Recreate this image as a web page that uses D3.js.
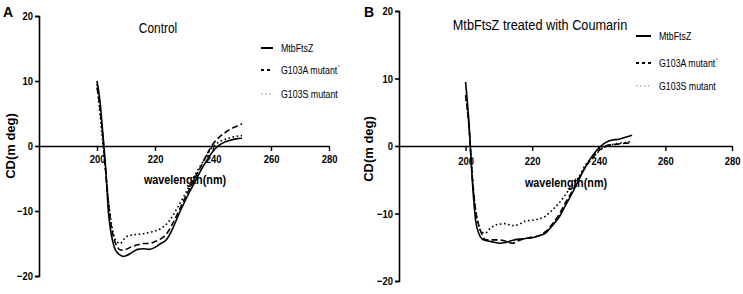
<!DOCTYPE html>
<html>
<head>
<meta charset="utf-8">
<script src="https://cdn.jsdelivr.net/npm/d3@7"></script>
<style>
  body { margin: 0; background: #fff; }
  svg { display: block; }
  text { font-family: "Liberation Sans", Arial, sans-serif; }
</style>
</head>
<body>
<script>
// wavelengths (nm) shared by every series
const wavelengths = [200, 201, 202, 203, 204, 205, 206, 207, 208, 209, 210, 212, 214, 216, 218, 220,
  222, 224, 226, 228, 230, 232, 234, 236, 238, 240, 242, 244, 246, 248, 250];

// panel A - control
const controlWild = [10, 7, 2, -3.5, -10.5, -13.8, -15.6, -16.4, -16.8, -17, -16.9, -16.4, -15.9, -15.8, -15.9, -15.6,
  -15, -14.4, -12.8, -10.7, -8.8, -7, -5.3, -3.6, -2.1, -0.8, 0.1, 0.6, 0.9, 1.1, 1.2];
const controlG103A = [9, 6, 1.5, -4, -9, -12.5, -14.5, -15.5, -16, -16, -15.9, -15.5, -15.2, -15, -15, -14.7,
  -14.3, -13.5, -12, -10.2, -8.3, -6.5, -4.7, -3, -1.2, 0.3, 1.3, 2, 2.6, 3, 3.4];
const controlG103S = [9.5, 5, 0.5, -4, -8.5, -12, -14, -14.8, -15, -14.5, -14, -13.7, -13.6, -13.5, -13.3, -13.1,
  -12.7, -12, -10.8, -9.3, -7.7, -6, -4.3, -2.8, -1.3, -0.1, 0.6, 1, 1.3, 1.5, 1.6];

// panel B - treated with coumarin
const coumarinWild = [9.5, 3.5, -5, -11, -13, -13.8, -14, -14.1, -14.2, -14.3, -14.4, -14.3, -14, -13.8, -13.7, -13.6,
  -13.3, -12.9, -11.8, -10.6, -8.8, -7, -5, -3.1, -1.5, -0.3, 0.5, 0.9, 1, 1.3, 1.6];
const coumarinG103A = [7.5, 3, -4.5, -9.5, -11.8, -13.2, -13.9, -13.9, -13.9, -13.9, -13.9, -14.1, -14.4, -14, -13.7, -13.5,
  -13.3, -12.7, -11.6, -10.2, -8.4, -6.7, -4.8, -3.1, -1.8, -0.7, 0, 0.2, 0.3, 0.4, 0.5];
const coumarinG103S = [7.5, 3, -4.5, -9.5, -12, -12.8, -12.9, -12.4, -12, -11.7, -11.6, -11.5, -11.8, -11.6, -11.1, -11,
  -10.8, -10.4, -9.5, -8.5, -7.2, -5.8, -4.6, -2.8, -1.7, -0.8, -0.1, 0.2, 0.4, 0.5, 0.7];

const seriesNames = ["MtbFtsZ", "G103A mutant`", "G103S mutant"];
const xTicks = [200, 220, 240, 260, 280];
const yTicks = [20, 10, 0, -10, -20];

// line styles for each series: solid, dashed, dotted
const styles = [
  { dash: null, width: 1.6, color: "#000" },
  { dash: "6,3", width: 1.6, color: "#000" },
  { dash: "1.6,2.6", width: 1.6, color: "#000" }
];
const legendStyles = [
  { dash: null, width: 2, color: "#000" },
  { dash: "3,3", width: 2, color: "#000" },
  { dash: "1.5,2.5", width: 1, color: "#888" }
];

const svg = d3.select("body").append("svg")
  .attr("width", 743)
  .attr("height", 294);

// the original uses a condensed face; squeeze the installed one horizontally
function squeeze(sel, factor) {
  sel.each(function() {
    const len = this.getComputedTextLength();
    d3.select(this)
      .attr("textLength", len * factor)
      .attr("lengthAdjust", "spacingAndGlyphs");
  });
}

function drawPanel(p) {
  const x = d3.scaleLinear().domain([180, 280]).range([p.x0, p.x1]);
  const y = d3.scaleLinear().domain([-20, 20]).range([p.yBottom, p.yTop]);
  const g = svg.append("g");

  // curves
  const line = d3.line()
    .x((d, i) => x(wavelengths[i]))
    .y(d => y(d))
    .curve(d3.curveMonotoneX);

  p.series.forEach((vals, i) => {
    g.append("path")
      .attr("d", line(vals))
      .attr("fill", "none")
      .attr("stroke", styles[i].color)
      .attr("stroke-width", styles[i].width)
      .attr("stroke-dasharray", styles[i].dash)
      .attr("stroke-linejoin", "round");
  });

  // y axis
  const yAxis = g.append("g")
    .attr("transform", `translate(${p.x0},0)`)
    .call(d3.axisLeft(y).tickValues(yTicks).tickSize(4).tickPadding(2));
  yAxis.select(".domain").attr("stroke-width", 1.6);
  yAxis.selectAll(".tick line").attr("stroke-width", 1.6);
  yAxis.selectAll("text")
    .attr("font-family", null)
    .attr("font-size", 11.5)
    .attr("font-weight", "bold")
    .attr("fill", "#000")
    .call(squeeze, 0.82);

  // x axis at y = 0
  const xAxis = g.append("g")
    .attr("transform", `translate(0,${y(0)})`)
    .call(d3.axisBottom(x).tickValues(xTicks).tickSize(5).tickSizeOuter(0).tickPadding(p.xPad));
  xAxis.select(".domain").attr("stroke-width", 1.6);
  xAxis.selectAll(".tick line").attr("stroke-width", 1.4);
  xAxis.selectAll("text")
    .attr("font-family", null)
    .attr("font-size", 11.5)
    .attr("font-weight", "bold")
    .attr("fill", "#000")
    .call(squeeze, 0.82);
  svg.selectAll(".tick text, .domain").attr("font-family", null);
  xAxis.attr("font-family", null);
  yAxis.attr("font-family", null);

  // axis titles
  g.append("text")
    .attr("x", p.xLabelX).attr("y", p.xLabelY)
    .attr("text-anchor", "middle")
    .attr("font-size", 13.5)
    .attr("font-weight", "bold")
    .text("wavelength(nm)")
    .call(squeeze, 0.8);

  g.append("text")
    .attr("transform", `translate(${p.yLabelX},${p.yLabelY}) rotate(-90)`)
    .attr("text-anchor", "middle")
    .attr("font-size", 13)
    .attr("font-weight", "bold")
    .text("CD(m deg)");

  // panel title and letter
  g.append("text")
    .attr("x", p.titleX).attr("y", p.titleY)
    .attr("text-anchor", "middle")
    .attr("font-size", p.titleSize)
    .text(p.title)
    .call(squeeze, 0.82);

  g.append("text")
    .attr("x", p.letterX).attr("y", 17)
    .attr("font-size", 14)
    .attr("font-weight", "bold")
    .text(p.letter);

  // legend
  seriesNames.forEach((name, i) => {
    const ly = p.legendY[i];
    g.append("line")
      .attr("x1", p.legendX).attr("x2", p.legendX + p.legendLen)
      .attr("y1", ly).attr("y2", ly)
      .attr("stroke", legendStyles[i].color)
      .attr("stroke-width", legendStyles[i].width)
      .attr("stroke-dasharray", legendStyles[i].dash);
    g.append("text")
      .attr("x", p.legendX + p.legendLen + 8)
      .attr("y", ly)
      .attr("dy", "0.35em")
      .attr("font-size", 11)
      .text(name)
      .call(squeeze, 0.8);
  });
}

drawPanel({
  x0: 39, x1: 329, yTop: 16, yBottom: 276, xPad: 4,
  series: [controlWild, controlG103A, controlG103S],
  xLabelX: 185, xLabelY: 184,
  yLabelX: 15, yLabelY: 146,
  title: "Control", titleX: 158, titleY: 33, titleSize: 14.5,
  letter: "A", letterX: 3,
  legendX: 261, legendLen: 12, legendY: [48, 70, 94]
});

drawPanel({
  x0: 399, x1: 732, yTop: 11, yBottom: 281, xPad: 6,
  series: [coumarinWild, coumarinG103A, coumarinG103S],
  xLabelX: 566, xLabelY: 187,
  yLabelX: 373, yLabelY: 149,
  title: "MtbFtsZ treated with Coumarin", titleX: 540, titleY: 30, titleSize: 15.5,
  letter: "B", letterX: 364,
  legendX: 636, legendLen: 15, legendY: [36, 63, 86]
});
</script>
</body>
</html>
